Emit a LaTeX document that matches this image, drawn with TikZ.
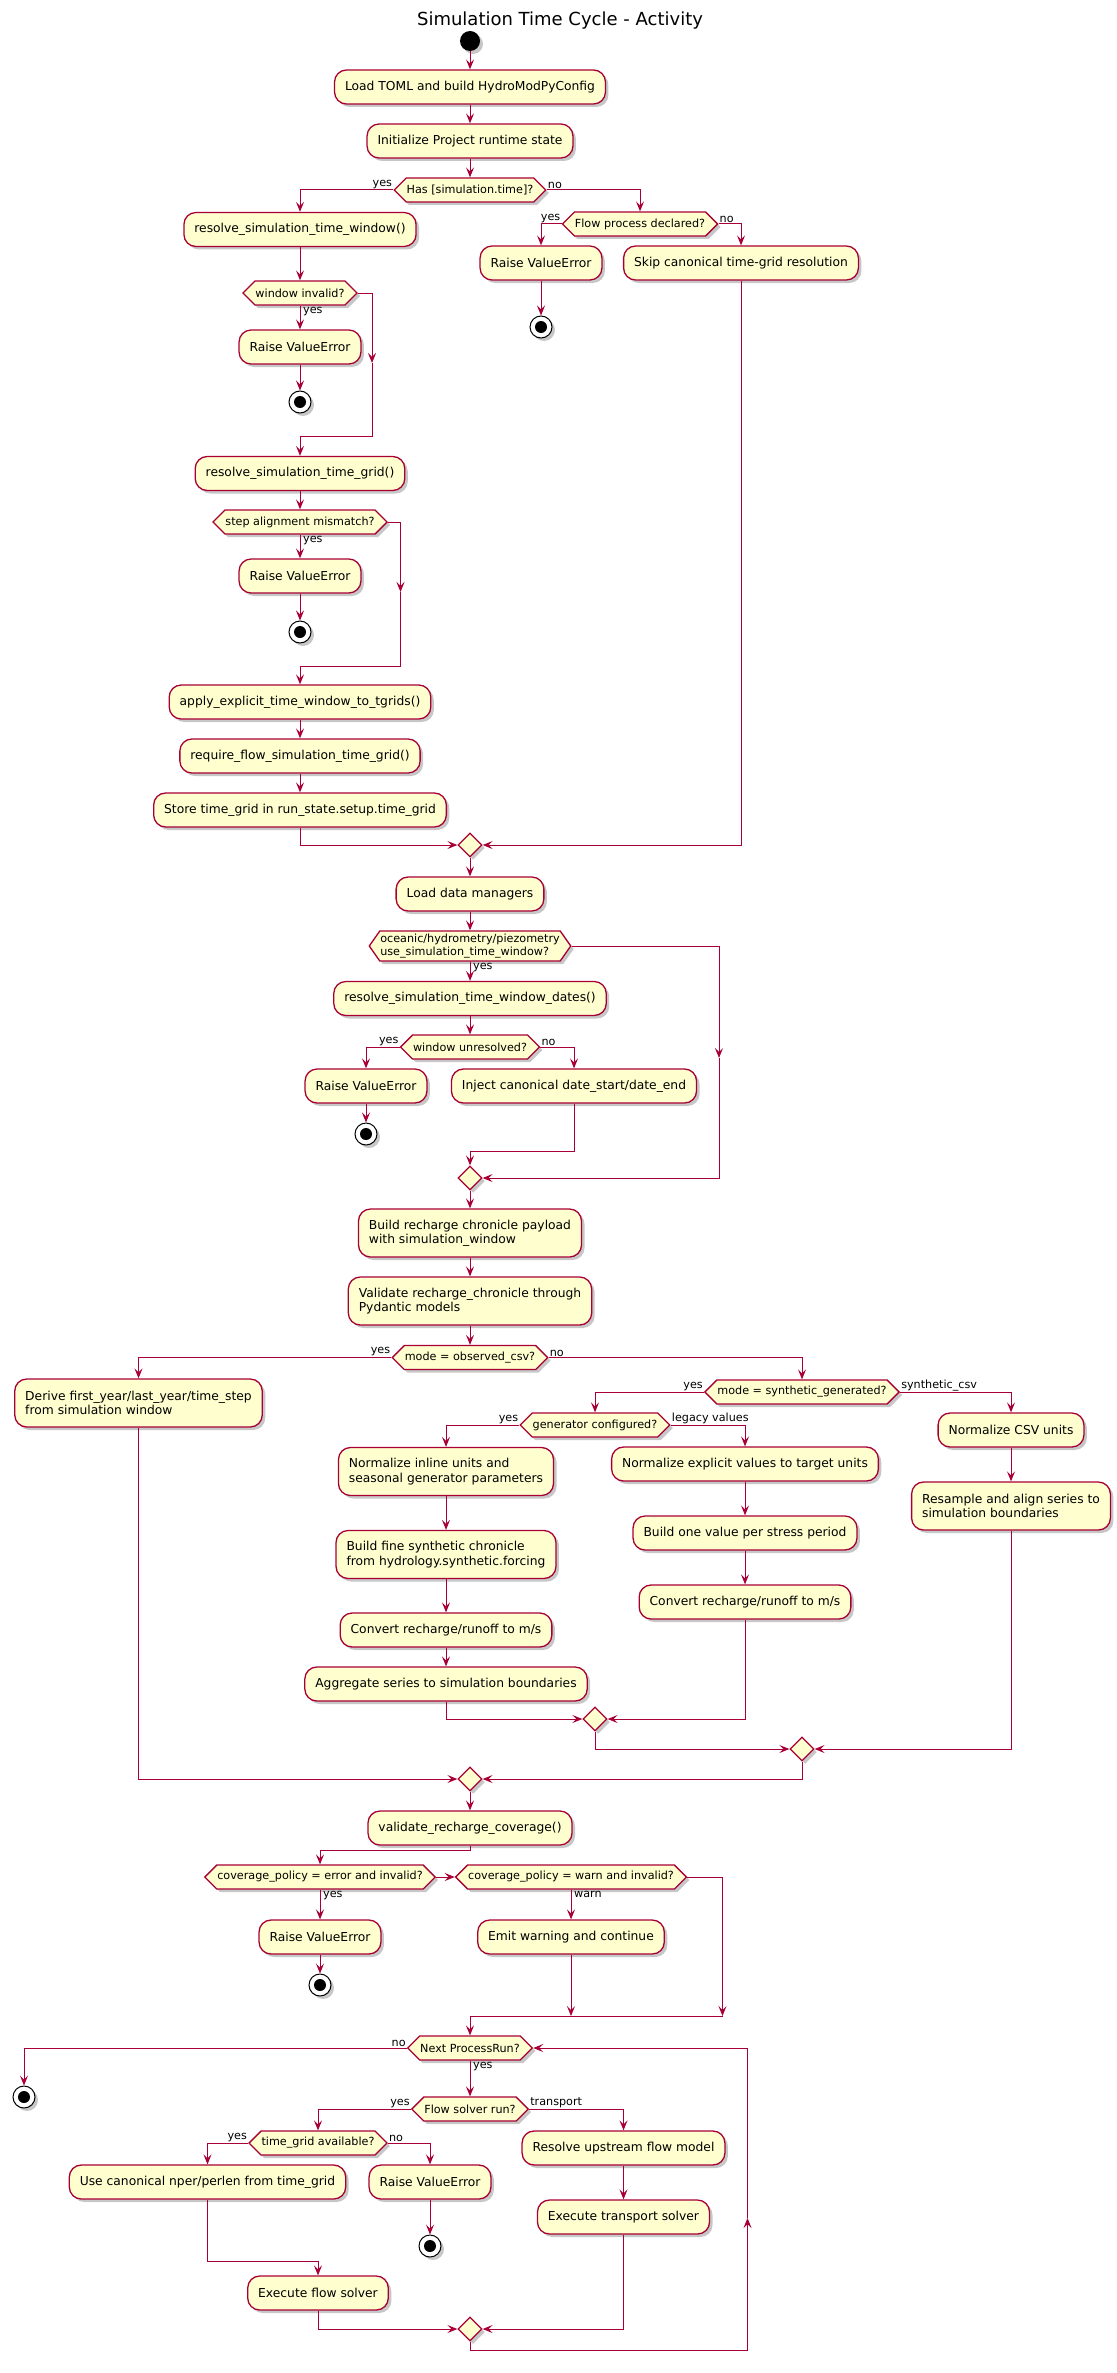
\documentclass[tikz,border=0pt]{standalone}
\usepackage{fontspec}
\setmainfont{DejaVu Sans}
\usetikzlibrary{shapes.geometric,shapes.symbols,arrows.meta,shadows}
\definecolor{umlred}{HTML}{A80036}
\definecolor{umlfill}{HTML}{FEFECE}
\newcommand\bxf{\fontsize{12.3}{14.3}\selectfont}
\newcommand\hxf{\fontsize{11.2}{13.2}\selectfont}
\begin{document}
\begin{tikzpicture}[x=1pt,y=-1pt,
  shd/.style={drop shadow={shadow xshift=3pt,shadow yshift=-3pt,opacity=0.22,fill=black}},
  box/.style={draw=umlred,fill=umlfill,line width=1.3pt,rounded corners=12pt,minimum height=34pt,inner xsep=10.5pt,inner ysep=4pt,font=\bxf,shd},
  box2/.style={box,minimum height=48pt,align=left},
  hex/.style={signal,signal to=west and east,signal pointer angle=90,draw=umlred,fill=umlfill,line width=1.3pt,minimum height=24pt,inner xsep=0.5pt,inner ysep=2pt,font=\hxf,shd},
  merge/.style={diamond,draw=umlred,fill=umlfill,line width=1.3pt,minimum width=24pt,minimum height=24pt,inner sep=0pt,shd},
  arr/.style={draw=umlred,line width=1pt,-{Stealth[length=10pt,width=8pt,inset=4pt]}},
  lbl/.style={font=\hxf,inner sep=1pt},
  startc/.style={circle,fill=black,minimum size=20pt,inner sep=0pt,shd},
  stopc/.style={circle,draw=black,fill=white,line width=1pt,minimum size=22pt,inner sep=0pt,shd},
  dot/.style={fill=black}
]
\fill[white] (0,0) rectangle (1116,2373);
\useasboundingbox (0,0) rectangle (1116,2373);

\node[font=\fontsize{18}{20}\selectfont] (title) at (560,21) {Simulation Time Cycle - Activity};
\node[startc] (start) at (470,41) {};

\node[box] (n1) at (470,87) {Load TOML and build HydroModPyConfig};
\node[box] (n2) at (470,141) {Initialize Project runtime state};
\node[hex] (d1) at (470,190) {Has [simulation.time]?};

% left branch
\node[box] (a1) at (300,229.5) {resolve\_simulation\_time\_window()};
\node[hex] (d2) at (300,293) {window invalid?};
\node[box] (e1) at (300,347) {Raise ValueError};
\node[stopc] (s1) at (300,402) {};
\node[box] (a2) at (300,473.5) {resolve\_simulation\_time\_grid()};
\node[hex] (d3) at (300,522) {step alignment mismatch?};
\node[box] (e2) at (300,576) {Raise ValueError};
\node[stopc] (s2) at (300,632) {};
\node[box] (a3) at (300,702) {apply\_explicit\_time\_window\_to\_tgrids()};
\node[box] (a4) at (300,756) {require\_flow\_simulation\_time\_grid()};
\node[box] (a5) at (300,810) {Store time\_grid in run\_state.setup.time\_grid};

% right branch
\node[hex] (d4) at (640,224) {Flow process declared?};
\node[box] (e3) at (541,263) {Raise ValueError};
\node[stopc] (s3) at (541,327) {};
\node[box] (b1) at (741,263) {Skip canonical time-grid resolution};

\node[merge] (m1) at (470,845) {};
\node[box] (n3) at (470,894) {Load data managers};
\node[hex,minimum height=30pt,signal pointer angle=110,align=left] (d5) at (470,946) {oceanic/hydrometry/piezometry\\use\_simulation\_time\_window?};
\node[box] (a6) at (470,998.5) {resolve\_simulation\_time\_window\_dates()};
\node[hex] (d6) at (470,1047) {window unresolved?};
\node[box] (e4) at (366,1086) {Raise ValueError};
\node[stopc] (s4) at (366,1134) {};
\node[box] (b2) at (574,1086) {Inject canonical date\_start/date\_end};
\node[merge] (m2) at (470,1178) {};

\node[box2] (n4) at (470,1233) {Build recharge chronicle payload\\with simulation\_window};
\node[box2] (n5) at (470,1301) {Validate recharge\_chronicle through\\Pydantic models};
\node[hex] (d7) at (470,1357.5) {mode = observed\_csv?};
\node[box2] (c1) at (138.5,1403) {Derive first\_year/last\_year/time\_step\\from simulation window};
\node[hex] (d8) at (802,1392) {mode = synthetic\_generated?};
\node[hex] (d9) at (595,1425) {generator configured?};
\node[box2] (g1) at (446,1471.5) {Normalize inline units and\\seasonal generator parameters};
\node[box2] (g2) at (446,1554.5) {Build fine synthetic chronicle\\from hydrology.synthetic.forcing};
\node[box] (g3) at (446,1630) {Convert recharge/runoff to m/s};
\node[box] (g4) at (446,1684) {Aggregate series to simulation boundaries};
\node[box] (h1) at (745,1464) {Normalize explicit values to target units};
\node[box] (h2) at (745,1533) {Build one value per stress period};
\node[box] (h3) at (745,1602) {Convert recharge/runoff to m/s};
\node[merge] (m3) at (595,1719) {};
\node[box] (k1) at (1011,1430) {Normalize CSV units};
\node[box2] (k2) at (1011,1506) {Resample and align series to\\simulation boundaries};
\node[merge] (m4) at (802,1749) {};
\node[merge] (m5) at (470,1779) {};

\node[box] (n6) at (470,1828) {validate\_recharge\_coverage()};
\node[hex] (d10) at (320,1877) {coverage\_policy = error and invalid?};
\node[hex] (d11) at (571,1877) {coverage\_policy = warn and invalid?};
\node[box] (e5) at (320,1937) {Raise ValueError};
\node[stopc] (s5) at (320,1985) {};
\node[box] (w1) at (571,1937) {Emit warning and continue};

\node[hex] (d12) at (470,2048) {Next ProcessRun?};
\node[stopc] (s6) at (24,2097) {};
\node[hex] (d13) at (470,2109) {Flow solver run?};
\node[hex] (d14) at (318,2143) {time\_grid available?};
\node[box] (u1) at (207.5,2182) {Use canonical nper/perlen from time\_grid};
\node[box] (e6) at (430,2182) {Raise ValueError};
\node[stopc] (s7) at (430,2246) {};
\node[box] (f1) at (318,2293) {Execute flow solver};
\node[box] (t1) at (623.5,2148) {Resolve upstream flow model};
\node[box] (t2) at (623.5,2217) {Execute transport solver};
\node[merge] (m6) at (470,2329) {};

% stop dots
\foreach \s in {s1,s2,s3,s4,s5,s6,s7} \fill[dot] (\s) circle (6pt);

% bend coordinates
\coordinate (j1) at (372,363);
\coordinate (j2) at (372,436);
\coordinate (j3) at (400.5,592);
\coordinate (j4) at (400.5,666);
\coordinate (j5) at (719,1058);
\coordinate (j6) at (470,1151);
\coordinate (j7) at (470,1850);
\coordinate (j8) at (571,2016);
\coordinate (j9) at (722.5,2016);
\coordinate (j10) at (470,2016);
\coordinate (j11) at (318,2261);
\coordinate (j12) at (470,2350);
\coordinate (j13) at (747.5,2350);
\coordinate (j14) at (747.5,2218);

% connectors
\draw[arr] (start.south) -- (n1.north);
\draw[arr] (n1.south) -- (n2.north);
\draw[arr] (n2.south) -- (d1.north);
\draw[arr] (d1.west) -| (a1.north);
\draw[arr] (d1.east) -| (d4.north);
\draw[arr] (a1.south) -- (d2.north);
\draw[arr] (d2.south) -- (e1.north);
\draw[arr] (e1.south) -- (s1.north);
\draw[arr] (d2.east) -| (j1);
\draw[arr] (j1) -- (j2) -| (a2.north);
\draw[arr] (a2.south) -- (d3.north);
\draw[arr] (d3.south) -- (e2.north);
\draw[arr] (e2.south) -- (s2.north);
\draw[arr] (d3.east) -| (j3);
\draw[arr] (j3) -- (j4) -| (a3.north);
\draw[arr] (a3.south) -- (a4.north);
\draw[arr] (a4.south) -- (a5.north);
\draw[arr] (a5.south) |- (m1.west);
\draw[arr] (d4.west) -| (e3.north);
\draw[arr] (e3.south) -- (s3.north);
\draw[arr] (d4.east) -| (b1.north);
\draw[arr] (b1.south) |- (m1.east);
\draw[arr] (m1.south) -- (n3.north);
\draw[arr] (n3.south) -- (d5.north);
\draw[arr] (d5.south) -- (a6.north);
\draw[arr] (d5.east) -| (j5);
\draw[arr] (j5) |- (m2.east);
\draw[arr] (a6.south) -- (d6.north);
\draw[arr] (d6.west) -| (e4.north);
\draw[arr] (e4.south) -- (s4.north);
\draw[arr] (d6.east) -| (b2.north);
\draw[arr] (b2.south) |- (j6) -- (m2.north);
\draw[arr] (m2.south) -- (n4.north);
\draw[arr] (n4.south) -- (n5.north);
\draw[arr] (n5.south) -- (d7.north);
\draw[arr] (d7.west) -| (c1.north);
\draw[arr] (c1.south) |- (m5.west);
\draw[arr] (d7.east) -| (d8.north);
\draw[arr] (d8.west) -| (d9.north);
\draw[arr] (d8.east) -| (k1.north);
\draw[arr] (d9.west) -| (g1.north);
\draw[arr] (d9.east) -| (h1.north);
\draw[arr] (g1.south) -- (g2.north);
\draw[arr] (g2.south) -- (g3.north);
\draw[arr] (g3.south) -- (g4.north);
\draw[arr] (h1.south) -- (h2.north);
\draw[arr] (h2.south) -- (h3.north);
\draw[arr] (g4.south) |- (m3.west);
\draw[arr] (h3.south) |- (m3.east);
\draw[arr] (k1.south) -- (k2.north);
\draw[arr] (m3.south) |- (m4.west);
\draw[arr] (k2.south) |- (m4.east);
\draw[arr] (m4.south) |- (m5.east);
\draw[arr] (m5.south) -- (n6.north);
\draw[arr] (n6.south) -- (j7) -| (d10.north);
\draw[arr] (d10.east) -- (d11.west);
\draw[arr] (d10.south) -- (e5.north);
\draw[arr] (e5.south) -- (s5.north);
\draw[arr] (d11.south) -- (w1.north);
\draw[arr] (w1.south) -- (j8);
\draw[arr] (d11.east) -| (j9);
\draw[arr] (j9) -- (j10) -- (d12.north);
\draw[arr] (d12.west) -| (s6.north);
\draw[arr] (d12.south) -- (d13.north);
\draw[arr] (d13.west) -| (d14.north);
\draw[arr] (d13.east) -| (t1.north);
\draw[arr] (d14.west) -| (u1.north);
\draw[arr] (d14.east) -| (e6.north);
\draw[arr] (e6.south) -- (s7.north);
\draw[arr] (u1.south) |- (j11) -- (f1.north);
\draw[arr] (f1.south) |- (m6.west);
\draw[arr] (t1.south) -- (t2.north);
\draw[arr] (t2.south) |- (m6.east);
\draw[arr] (m6.south) -- (j12) -- (j13) -- (j14);
\draw[arr] (j14) |- (d12.east);

% labels
\node[lbl,anchor=south east] (l1) at (d1.west) {yes};
\node[lbl,anchor=south west] (l2) at (d1.east) {no};
\node[lbl,anchor=north west] (l3) at ([xshift=2pt]d2.south) {yes};
\node[lbl,anchor=north west] (l4) at ([xshift=2pt]d3.south) {yes};
\node[lbl,anchor=south east] (l5) at (d4.west) {yes};
\node[lbl,anchor=south west] (l6) at (d4.east) {no};
\node[lbl,anchor=north west] (l7) at ([xshift=2pt]d5.south) {yes};
\node[lbl,anchor=south east] (l8) at (d6.west) {yes};
\node[lbl,anchor=south west] (l9) at (d6.east) {no};
\node[lbl,anchor=south east] (l10) at (d7.west) {yes};
\node[lbl,anchor=south west] (l11) at (d7.east) {no};
\node[lbl,anchor=south east] (l12) at (d8.west) {yes};
\node[lbl,anchor=south west] (l13) at (d8.east) {synthetic\_csv};
\node[lbl,anchor=south east] (l14) at (d9.west) {yes};
\node[lbl,anchor=south west] (l15) at (d9.east) {legacy values};
\node[lbl,anchor=north west] (l16) at ([xshift=2pt]d10.south) {yes};
\node[lbl,anchor=north west] (l17) at ([xshift=2pt]d11.south) {warn};
\node[lbl,anchor=south east] (l18) at (d12.west) {no};
\node[lbl,anchor=north west] (l19) at ([xshift=2pt]d12.south) {yes};
\node[lbl,anchor=south east] (l20) at (d13.west) {yes};
\node[lbl,anchor=south west] (l21) at (d13.east) {transport};
\node[lbl,anchor=south east] (l22) at (d14.west) {yes};
\node[lbl,anchor=south west] (l23) at (d14.east) {no};
\end{tikzpicture}
\end{document}
